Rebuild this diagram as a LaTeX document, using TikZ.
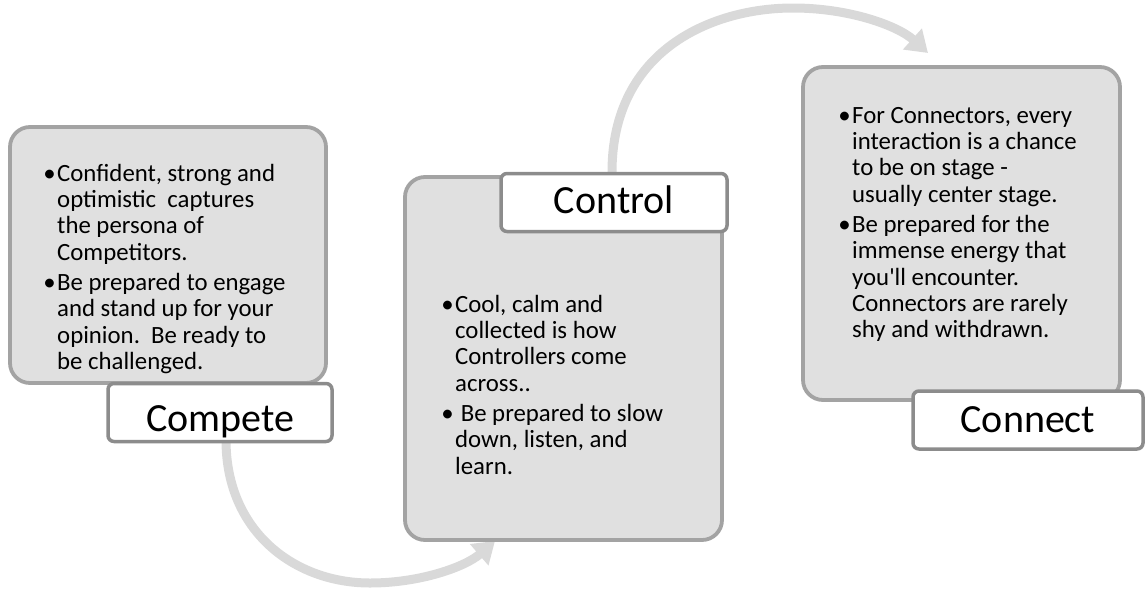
\documentclass[tikz,border=0pt]{standalone}
\usepackage{fontspec}
\setmainfont{Carlito}[Ligatures=TeXOff]
\usetikzlibrary{arrows.meta,calc}

\definecolor{panelfill}{HTML}{E0E0E0}
\definecolor{panelline}{HTML}{A3A3A3}
\definecolor{tagline}{HTML}{8C8C8C}
\definecolor{flowgray}{HTML}{D9D9D9}

% bullet hung to the left of the text column
\newcommand{\blt}{\leavevmode\llap{•\kern1.5pt}}
% bulleted text block, first baseline at the node's base
\newcommand{\bodytext}[2]{\parbox[t]{#1}{\fontsize{24.8}{26.4}\selectfont\raggedright\setlength{\parindent}{0pt}#2}}

\begin{document}
\begin{tikzpicture}[x=1pt,y=-1pt,
  panel/.style={draw=panelline, fill=panelfill, line width=3.8pt, rounded corners=20pt,
    inner sep=0pt, minimum width=#1},
  tag/.style={draw=tagline, fill=white, line width=3.5pt, rounded corners=6pt,
    inner sep=0pt, minimum height=58pt, minimum width=#1,
    font=\fontsize{40}{40}\selectfont},
  body/.style={anchor=base west, inner sep=0pt},
  flow/.style={draw=flowgray, line width=9pt, -{Triangle[length=21pt,width=27pt]}}]

\useasboundingbox (0,0) rectangle (1146,590);

% named ends of the two curved connectors
\coordinate (f1a) at (226,440);
\coordinate (f1b) at (495,541);
\coordinate (f2a) at (612,172);
\coordinate (f2b) at (928,53);

% connectors sit behind the boxes
\draw[flow] (f1a) .. controls (226,532) and (295,583) .. (370,583)
  .. controls (420,583) and (465,567) .. (f1b);
\draw[flow] (f2a) .. controls (612,50) and (712,8) .. (793,8)
  .. controls (850,8) and (898,26) .. (f2b);

\node[panel=316pt, minimum height=256pt] (cmpbox) at (168,255) {};
\node[panel=317pt, minimum height=363pt] (ctlbox) at (563.5,358.5) {};
\node[panel=317pt, minimum height=333pt] (cnbox) at (961.5,233.5) {};

\node[tag=224pt, text height=38pt, text depth=0pt] (cmpl) at (220,412.5) {Compete};
\node[tag=226pt, text height=30pt, text depth=9pt] (ctll) at (614,202.5) {Control};
\node[tag=230pt, text height=30pt, text depth=6pt] (cnl) at (1028,420) {Connect};

% Competitors
\node[body] (cmptxt) at (57,181) {\bodytext{270pt}{%
\blt Confident, strong and\\
optimistic\ \ captures\\
the persona of\\
Competitors.\par\vspace{3.6pt}
\blt Be prepared to engage\\
and stand up for your\\
opinion.\ \ Be ready to\\
be challenged.}};

% Controllers
\node[body] (ctltxt) at (455,312) {\bodytext{270pt}{%
\blt Cool, calm and\\
collected is how\\
Controllers come\\
across..\par\vspace{3.6pt}
\blt\ Be prepared to slow\\
down, listen, and\\
learn.}};

% Connectors
\node[body] (cntxt) at (852,123) {\bodytext{270pt}{%
\blt For Connectors, every\\
interaction is a chance\\
to be on stage -\\
usually center\ stage.\par\vspace{3.6pt}
\blt Be prepared for the\\
immense energy that\\
you'll encounter.\\
Connectors are rarely\\
shy and withdrawn.}};

\end{tikzpicture}
\end{document}
